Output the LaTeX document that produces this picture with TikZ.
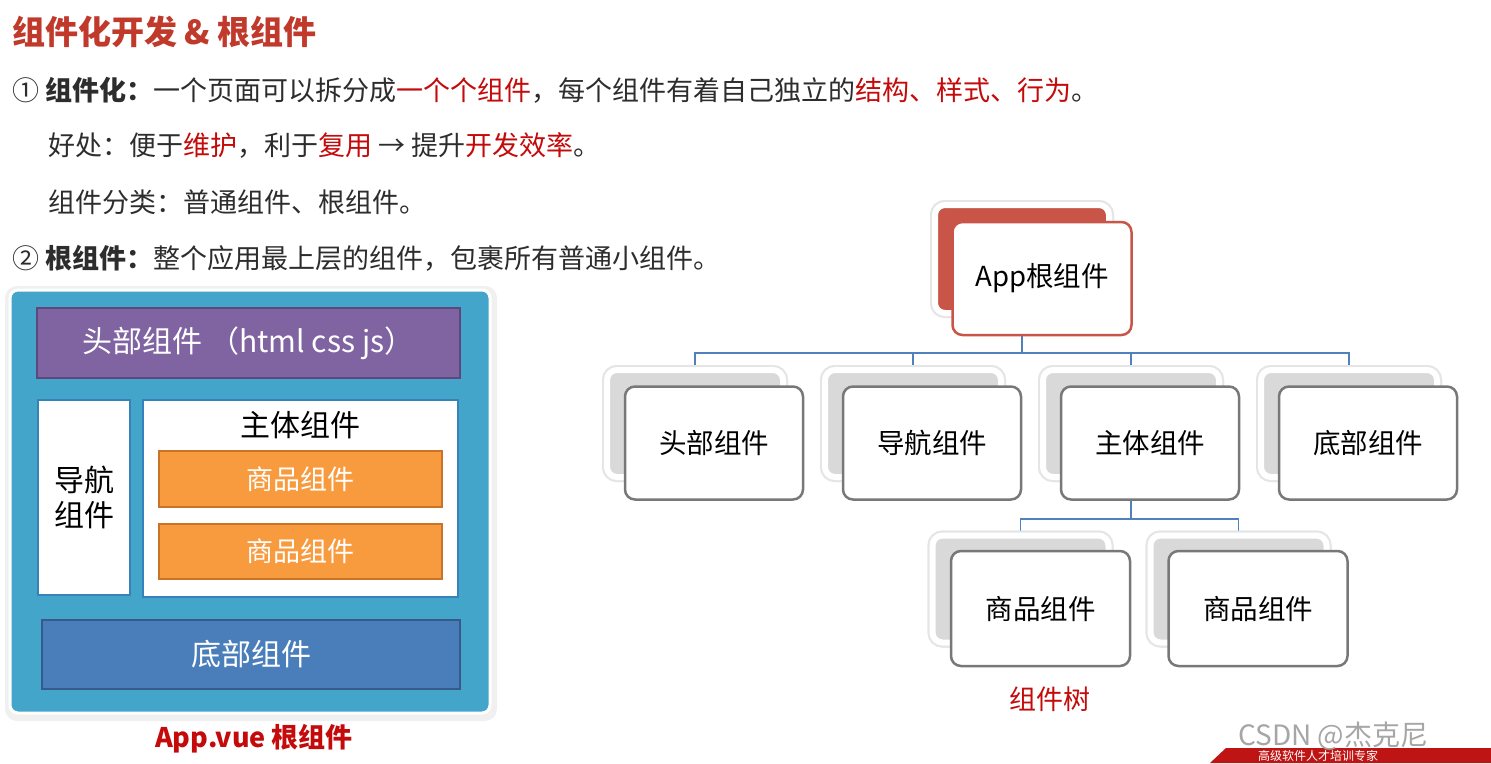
\documentclass[tikz,border=0pt]{standalone}
\usepackage{fontspec}
\setmainfont{Noto Sans CJK SC}
\usetikzlibrary{calc}
\definecolor{titlered}{RGB}{192,57,43}
\definecolor{hired}{RGB}{196,10,10}
\definecolor{txt}{RGB}{45,45,45}
\definecolor{outerblue}{RGB}{68,165,202}
\definecolor{purp}{RGB}{128,100,162}
\definecolor{purpdark}{RGB}{92,72,125}
\definecolor{orng}{RGB}{248,155,62}
\definecolor{orngdark}{RGB}{200,115,40}
\definecolor{footblue}{RGB}{74,126,187}
\definecolor{footdark}{RGB}{55,90,140}
\definecolor{innerborder}{RGB}{55,130,185}
\definecolor{treeline}{RGB}{79,129,189}
\definecolor{boxgray}{RGB}{120,120,120}
\definecolor{shadegray}{RGB}{217,217,217}
\definecolor{rootred}{RGB}{200,85,72}
\definecolor{bannerred}{RGB}{190,20,20}
\begin{document}
\begin{tikzpicture}[x=1pt,y=-1pt,
  line/.style={txt, anchor=west, inner sep=0pt, font=\fontsize{27}{31}\selectfont},
  fbox/.style={draw=boxgray, line width=2.5pt, fill=white, rounded corners=10pt,
     minimum width=178pt, minimum height=113pt, inner sep=0pt, text=black,
     font=\fontsize{27.5}{31}\selectfont},
  bbox/.style={preaction={draw=black!10, line width=10pt}, draw=white, line width=6pt,
     fill=shadegray, rounded corners=10pt, minimum width=176pt, minimum height=107pt, inner sep=0pt},
  tl/.style={treeline, line width=1.5pt},
  panel/.style={inner sep=0pt, align=center, font=\fontsize{30}{35}\selectfont}
]
\useasboundingbox (0,0) rectangle (1491,763);
\fill[white] (0,0) rectangle (1491,763);

% ---------- text ----------
\node[anchor=west, inner sep=0pt, text=titlered, font=\fontsize{33}{37}\selectfont\bfseries] (title) at (12,32) {组件化开发 \& 根组件};
\node[line] (l1) at (12,90) {① {\bfseries 组件化：}一个页面可以拆分成\textcolor{hired}{一个个组件}，每个组件有着自己独立的\textcolor{hired}{结构、样式、行为}。};
\node[line] (l2) at (48,146) {好处：便于\textcolor{hired}{维护}，利于\textcolor{hired}{复用} → 提升\textcolor{hired}{开发效率}。};
\node[line] (l3) at (48,202) {组件分类：普通组件、根组件。};
\node[line] (l4) at (12,258) {② {\bfseries 根组件：}整个应用最上层的组件，包裹所有普通小组件。};

% ---------- left panel ----------
\fill[black!6, rounded corners=12pt] (5,286) rectangle (497,721);
\node[fill=outerblue, draw=white, line width=3pt, rounded corners=8pt, minimum width=480pt, minimum height=423pt, inner sep=0pt] (app) at (250,501.5) {};
\node[panel, fill=purp, draw=purpdark, line width=1.5pt, minimum width=423pt, minimum height=70pt, text=white] (head) at (248.5,343) {头部组件 （html css js）};
\node[panel, fill=white, draw=innerborder, line width=2.5pt, minimum width=92pt, minimum height=195pt, text=black] (nav) at (84,497.5) {导航\\组件};
\node[panel, fill=white, draw=innerborder, line width=2.5pt, minimum width=315pt, minimum height=197pt] (main) at (300.5,498.5) {};
\node[panel, text=black] (mainlbl) at (300.5,425) {主体组件};
\node[panel, fill=orng, draw=orngdark, line width=1.5pt, minimum width=283pt, minimum height=56pt, text=white, font=\fontsize{27}{31}\selectfont] (goods1) at (300.5,479) {商品组件};
\node[panel, fill=orng, draw=orngdark, line width=1.5pt, minimum width=283pt, minimum height=55pt, text=white, font=\fontsize{27}{31}\selectfont] (goods2) at (300.5,551.5) {商品组件};
\node[panel, fill=footblue, draw=footdark, line width=1.5pt, minimum width=418pt, minimum height=69pt, text=white] (foot) at (251,654.5) {底部组件};
\node[inner sep=0pt, text=hired, font=\fontsize{27}{31}\selectfont\bfseries] (cap1) at (254,739) {App.vue 根组件};

% ---------- tree ----------
% back boxes
\node[bbox, fill=rootred, minimum width=174pt, minimum height=108pt] (rootb) at (1022,259) {};
\foreach \i/\x in {1/714,2/932,3/1150,4/1368} {
  \node[bbox] (c\i b) at ({\x-19},423.5) {};
}
\node[bbox] (g1b) at (1020.5,589) {};
\node[bbox] (g2b) at (1238.5,589) {};

% connectors
\coordinate (bus) at ($(rootb.south)+(0,37)$);
\draw[tl] (rootb.south) -- (bus);
\foreach \c in {c1b,c2b,c3b,c4b} { \draw[tl] (bus) -| (\c.north); }
\coordinate (bus2) at ($(c3b.south)+(0,39)$);
\draw[tl] (c3b.south) -- (bus2);
\foreach \c in {g1b,g2b} { \draw[tl] (bus2) -| (\c.north); }

% redraw back boxes over line ends
\node[bbox, fill=rootred, minimum width=174pt, minimum height=108pt] at (1022,259) {};
\foreach \i/\x in {1/714,2/932,3/1150,4/1368} {
  \node[bbox] at ({\x-19},423.5) {};
}
\node[bbox] at (1020.5,589) {};
\node[bbox] at (1238.5,589) {};

% front boxes
\node[fbox, draw=rootred, minimum width=179pt] (root) at (1042,278.5) {App根组件};
\node[fbox] (c1) at (714,443) {头部组件};
\node[fbox] (c2) at (932,443) {导航组件};
\node[fbox] (c3) at (1150,443) {主体组件};
\node[fbox] (c4) at (1368,443) {底部组件};
\node[fbox, minimum width=179pt, minimum height=115pt] (g1) at (1040.5,608.5) {商品组件};
\node[fbox, minimum width=179pt, minimum height=115pt] (g2) at (1258,608.5) {商品组件};
\node[inner sep=0pt, text=hired, font=\fontsize{27}{31}\selectfont] (cap2) at (1050,699) {组件树};

% ---------- watermark / banner ----------
\fill[bannerred] (1210,763) -- (1226,748) -- (1491,748) -- (1491,763) -- cycle;
\node[anchor=west, inner sep=0pt, text=white, font=\fontsize{12}{14}\selectfont] (banner) at (1258,755.5) {高级软件人才培训专家};
\node[anchor=west, inner sep=0pt, text=black!35, font=\fontsize{28}{32}\selectfont] (wm) at (1238,736) {CSDN @杰克尼};
\end{tikzpicture}
\end{document}
